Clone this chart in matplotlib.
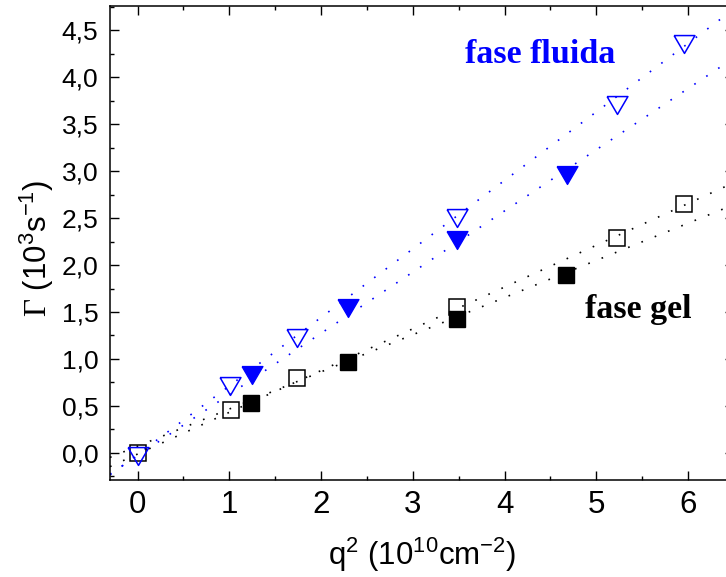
import matplotlib
matplotlib.use("Agg")
import matplotlib.pyplot as plt
from matplotlib.ticker import MultipleLocator, FixedLocator, FixedFormatter

# ---- data ----
x_fluid_open = [0.0, 1.01, 1.74, 3.48, 5.23, 5.95]
y_fluid_open = [-0.03, 0.71, 1.22, 2.50, 3.71, 4.35]

x_fluid_fill = [1.245, 2.29, 3.48, 4.68]
y_fluid_fill = [0.83, 1.54, 2.27, 2.96]

x_gel_open = [0.0, 1.016, 1.74, 3.48, 5.23, 5.95]
y_gel_open = [0.0, 0.456, 0.80, 1.55, 2.29, 2.65]

x_gel_fill = [1.24, 2.29, 3.48, 4.67]
y_gel_fill = [0.53, 0.964, 1.43, 1.89]

# linear fits (slope, intercept)
fit_fluid_open = (0.730, -0.018)
fit_fluid_fill = (0.652, -0.031)
fit_gel_open = (0.445, -0.014)
fit_gel_fill = (0.396, 0.070)

xticks = [0, 1, 2, 3, 4, 5, 6]
xticklabels = ["0", "1", "2", "3", "4", "5", "6"]
yticks = [0.0, 0.5, 1.0, 1.5, 2.0, 2.5, 3.0, 3.5, 4.0, 4.5]
yticklabels = ["0,0", "0,5", "1,0", "1,5", "2,0", "2,5", "3,0", "3,5", "4,0", "4,5"]

# ---- style ----
plt.rcParams["font.family"] = ["Liberation Sans", "DejaVu Sans"]
plt.rcParams["mathtext.fontset"] = "custom"
plt.rcParams["mathtext.rm"] = "Liberation Sans"
plt.rcParams["mathtext.it"] = "Liberation Sans"
plt.rcParams["mathtext.cal"] = "Liberation Serif"

BLUE = "#0000ff"
BLACK = "#000000"

fig = plt.figure(figsize=(7.26, 5.77), dpi=100)
ax = fig.add_axes([110 / 726, 97 / 577, 624 / 726, 474 / 577])
ax.set_xlim(-0.3, 6.5)
ax.set_ylim(-0.29, 4.76)

dot = (0, (1, 7.6))
for (m, b), c in [(fit_fluid_open, BLUE), (fit_fluid_fill, BLUE),
                  (fit_gel_open, BLACK), (fit_gel_fill, BLACK)]:
    ax.axline((0, b), slope=m, color=c, lw=1.2, linestyle=dot, zorder=1)

tri = [(-1, 0.857), (1, 0.857), (0, -0.857), (-1, 0.857)]
ax.plot(x_gel_open, y_gel_open, linestyle="none", marker="s", ms=11.5,
        mfc="none", mec=BLACK, mew=1.1, zorder=3)
ax.plot(x_gel_fill, y_gel_fill, linestyle="none", marker="s", ms=11.5,
        mfc=BLACK, mec=BLACK, mew=1.0, zorder=3)
ax.plot(x_fluid_open, y_fluid_open, linestyle="none", marker=tri, ms=15,
        mfc="none", mec=BLUE, mew=1.1, zorder=4)
ax.plot(x_fluid_fill, y_fluid_fill, linestyle="none", marker=tri, ms=15,
        mfc=BLUE, mec=BLUE, mew=1.0, zorder=4)

ax.text(3.57, 4.15, "fase fluida", color=BLUE, fontsize=24.5,
        fontweight="bold", family=["Liberation Serif", "DejaVu Serif"],
        ha="left", va="baseline")
ax.text(4.88, 1.435, "fase gel", color=BLACK, fontsize=24.5,
        fontweight="bold", family=["Liberation Serif", "DejaVu Serif"],
        ha="left", va="baseline")

ax.xaxis.set_major_locator(FixedLocator(xticks))
ax.xaxis.set_major_formatter(FixedFormatter(xticklabels))
ax.yaxis.set_major_locator(FixedLocator(yticks))
ax.yaxis.set_major_formatter(FixedFormatter(yticklabels))
ax.xaxis.set_minor_locator(MultipleLocator(0.5))
ax.yaxis.set_minor_locator(MultipleLocator(0.25))

ax.tick_params(which="both", direction="in", top=True, right=True, width=1.0)
ax.tick_params(which="major", length=6.5)
ax.tick_params(which="minor", length=2.8)
ax.tick_params(axis="y", pad=8.5, labelsize=19)
ax.tick_params(axis="x", pad=7, labelsize=22.5)
for s in ax.spines.values():
    s.set_linewidth(1.1)

ax.set_xlabel(r"q$^2$ (10$^{10}$cm$^{-2}$)", fontsize=22.5)
ax.set_ylabel(r"$\mathcal{\Gamma}$ (10$^3$s$^{-1}$)", fontsize=22.5)
ax.xaxis.set_label_coords(0.5, -0.118)
ax.yaxis.set_label_coords(-0.087, 0.488)

fig.savefig("out.png", dpi=100)
